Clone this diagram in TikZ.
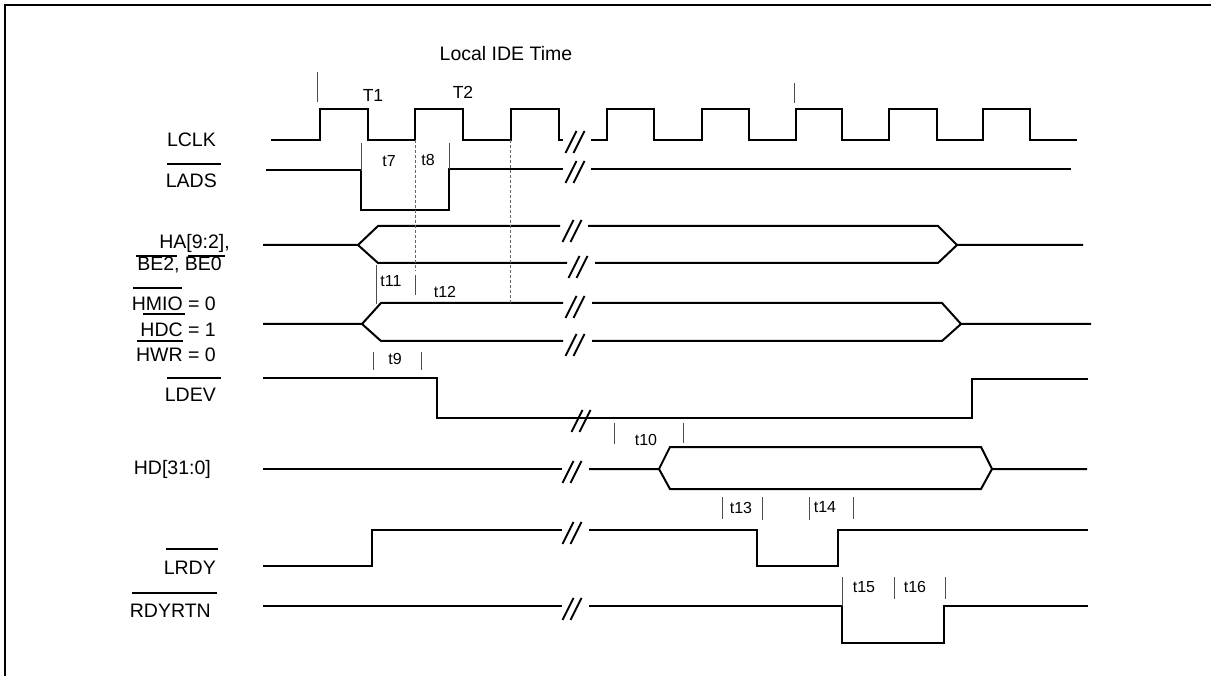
\documentclass[tikz,border=0pt]{standalone}
\usepackage{fontspec}
\setmainfont{Liberation Sans}
\newcommand\brkmark[2]{\draw[brk] (#1-9.5,#2+11) -- (#1+1.5,#2-11) (#1-1.5,#2+11) -- (#1+9.5,#2-11);}
\begin{document}
\begin{tikzpicture}[x=1pt,y=-1pt,
  lbl/.style={font=\fontsize{19.5}{22}\selectfont, inner sep=0pt, anchor=base east},
  ttl/.style={font=\fontsize{19.5}{22}\selectfont, inner sep=0pt, anchor=base},
  tt/.style={font=\fontsize{17.5}{20}\selectfont, inner sep=0pt, anchor=base},
  tlab/.style={font=\fontsize{16}{18}\selectfont, inner sep=0pt, anchor=base},
  clk/.style={line width=2.8pt},
  sig/.style={line width=2pt},
  brk/.style={line width=2pt},
  bar/.style={line width=1.4pt},
  tick/.style={line width=1pt, draw=black!70},
  guide/.style={line width=0.9pt, draw=black!60, dash pattern=on 3pt off 2pt},
  frame/.style={line width=2pt}]
\useasboundingbox (0,0) rectangle (1211,676);
% frame (top and left edges visible)
\draw[frame] (5,1300) -- (5,5) -- (1300,5);

% title and cycle labels
\node[ttl] (title) at (506,61) {Local IDE Time};
\node[tt] (T1) at (373,102) {T1};
\node[tt] (T2) at (463,99) {T2};

% signal names
\node[lbl] (nLCLK) at (216,147) {LCLK};
\node[lbl] (nLADS) at (217,188) {LADS};
\node[lbl] (nHA) at (230,249) {HA[9:2],};
\node[lbl] (nBE) at (222,271) {BE2, BE0};
\node[lbl] (nHMIO) at (216,311) {HMIO = 0};
\node[lbl] (nHDC) at (216,337) {HDC = 1};
\node[lbl] (nHWR) at (216,362) {HWR = 0};
\node[lbl] (nLDEV) at (216,402) {LDEV};
\node[lbl] (nHD) at (211,475) {HD[31:0]};
\node[lbl] (nLRDY) at (216,574) {LRDY};
\node[lbl] (nRDY) at (211,617) {RDYRTN};

% active-low bars over the names
\draw[bar] (167,164) -- (221,164);
\draw[bar] (136,256) -- (177,256);
\draw[bar] (188,256) -- (225,256);
\draw[bar] (133,288) -- (182,288);
\draw[bar] (143,314) -- (185,314);
\draw[bar] (137,341) -- (183,341);
\draw[bar] (167,378) -- (221,378);
\draw[bar] (166,549) -- (218,549);
\draw[bar] (132,593) -- (217,593);

% LCLK
\draw[clk] (271,140) -- (320,140) -- (320,109) -- (368,109) -- (368,140) -- (415,140) -- (415,109) -- (463,109) -- (463,140) -- (511,140) -- (511,109) -- (559,109) -- (559,140) -- (563,140);
\draw[clk] (591,140) -- (607,140) -- (607,109) -- (654,109) -- (654,140) -- (702,140) -- (702,109) -- (749,109) -- (749,140) -- (796,140) -- (796,109) -- (842,109) -- (842,140) -- (889,140) -- (889,109) -- (937,109) -- (937,140) -- (983,140) -- (983,109) -- (1030,109) -- (1030,140) -- (1077,140);
\brkmark{575}{142}

% LADS
\draw[sig] (266,170) -- (361,170) -- (361,210) -- (449,210) -- (449,169) -- (563,169);
\draw[sig] (591,169) -- (1071,169);
\brkmark{575}{172}

% HA bus
\draw[sig] (263,245) -- (358,245) -- (378,226) -- (560,226);
\draw[sig] (358,245) -- (378,263) -- (567,263);
\draw[sig] (588,226) -- (938,226) -- (957,245) -- (1083,245);
\draw[sig] (595,263) -- (938,263) -- (957,245);
\brkmark{572}{231}
\brkmark{578}{267}

% HMIO bus
\draw[sig] (263,324) -- (362,324) -- (381,303) -- (563,303);
\draw[sig] (362,324) -- (381,341) -- (563,341);
\draw[sig] (592,303) -- (942,303) -- (961,324) -- (1091,324);
\draw[sig] (592,341) -- (942,341) -- (961,324);
\brkmark{575}{307}
\brkmark{575}{345}

% LDEV
\draw[sig] (263,378) -- (437,378) -- (437,418) -- (972,418) -- (972,379) -- (1088,379);
\brkmark{581}{421}

% HD
\draw[sig] (263,469) -- (562,469);
\draw[sig] (589,469) -- (659,469) -- (670,447) -- (981,447) -- (992,469) -- (1087,469);
\draw[sig] (659,469) -- (670,489) -- (981,489) -- (992,469);
\brkmark{572}{472}

% LRDY
\draw[sig] (263,566) -- (372,566) -- (372,530) -- (562,530);
\draw[sig] (589,530) -- (757,530) -- (757,566) -- (838,566) -- (838,530) -- (1088,530);
\brkmark{572}{533}

% RDYRTN
\draw[sig] (263,606) -- (562,606);
\draw[sig] (589,606) -- (842,606) -- (842,643) -- (944,643) -- (944,606) -- (1088,606);
\brkmark{572}{609}

% guide lines
\draw[guide] (415,140) -- (415,271);
\draw[guide] (510,140) -- (510,303);

% ticks
\draw[tick] (317,72) -- (317,102);
\draw[tick] (794,83) -- (794,103);
\draw[tick] (361,143) -- (361,171);
\draw[tick] (449,143) -- (449,169);
\draw[tick] (376,265) -- (376,304);
\draw[tick] (415,275) -- (415,295);
\draw[tick] (373,352) -- (373,370);
\draw[tick] (421,352) -- (421,370);
\draw[tick] (614,423) -- (614,444);
\draw[tick] (683,423) -- (683,443);
\draw[tick] (722,497) -- (722,519);
\draw[tick] (762,497) -- (762,520);
\draw[tick] (809,497) -- (809,520);
\draw[tick] (853,497) -- (853,519);
\draw[tick] (842,577) -- (842,606);
\draw[tick] (894,577) -- (894,599);
\draw[tick] (945,577) -- (945,599);

% timing labels
\node[tlab] (t7) at (389,167) {t7};
\node[tlab] (t8) at (428,166) {t8};
\node[tlab] (t11) at (391,287) {t11};
\node[tlab] (t12) at (445,298) {t12};
\node[tlab] (t9) at (395,365) {t9};
\node[tlab] (t10) at (646,446) {t10};
\node[tlab] (t13) at (741,513) {t13};
\node[tlab] (t14) at (825,512) {t14};
\node[tlab] (t15) at (864,592) {t15};
\node[tlab] (t16) at (915,592) {t16};
\end{tikzpicture}
\end{document}
